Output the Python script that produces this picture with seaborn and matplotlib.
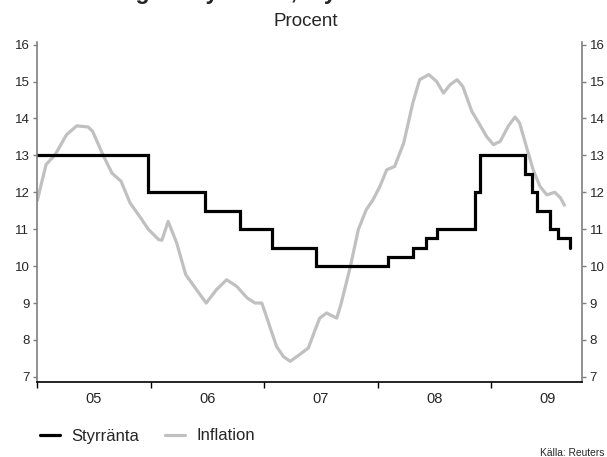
import matplotlib
matplotlib.use("Agg")
import matplotlib.pyplot as plt
from matplotlib.lines import Line2D
import pandas as pd
import seaborn as sns

# Policy rate (refinancing rate), percent: decimal year of each change and new level
rate_time = [2005.00, 2005.974, 2006.48, 2006.79, 2007.07, 2007.46, 2008.09,
             2008.31, 2008.43, 2008.52, 2008.857, 2008.90, 2009.30, 2009.357,
             2009.406, 2009.518, 2009.59, 2009.695]
rate_values = [13.0, 12.0, 11.5, 11.0, 10.5, 10.0, 10.25,
               10.5, 10.75, 11.0, 12.0, 13.0, 12.5, 12.0,
               11.5, 11.0, 10.75, 10.5]

# Consumer price inflation, percent y/y
infl_time = [2005.00, 2005.08, 2005.16, 2005.26, 2005.35, 2005.45, 2005.49, 2005.58,
             2005.66, 2005.74, 2005.82, 2005.91, 2005.98, 2006.07, 2006.10, 2006.155,
             2006.23, 2006.31, 2006.405, 2006.49, 2006.58, 2006.67, 2006.76, 2006.85,
             2006.92, 2006.98, 2007.02, 2007.11, 2007.17, 2007.23, 2007.32, 2007.39,
             2007.45, 2007.49, 2007.55, 2007.64, 2007.68, 2007.76, 2007.83, 2007.90,
             2007.96, 2008.02, 2008.08, 2008.15, 2008.23, 2008.31, 2008.37, 2008.45,
             2008.52, 2008.58, 2008.64, 2008.70, 2008.75, 2008.83, 2008.90, 2008.96,
             2009.02, 2009.08, 2009.15, 2009.21, 2009.25, 2009.31, 2009.37, 2009.43,
             2009.49, 2009.56, 2009.61, 2009.65]
infl_values = [11.75, 12.75, 13.02, 13.56, 13.80, 13.77, 13.65, 13.02,
               12.52, 12.30, 11.71, 11.32, 11.00, 10.72, 10.70, 11.21,
               10.63, 9.77, 9.36, 9.00, 9.36, 9.63, 9.45, 9.14,
               9.00, 9.00, 8.64, 7.82, 7.55, 7.42, 7.62, 7.78,
               8.28, 8.59, 8.73, 8.59, 9.00, 9.99, 10.99, 11.53,
               11.80, 12.16, 12.61, 12.70, 13.34, 14.42, 15.05, 15.19,
               15.00, 14.69, 14.92, 15.05, 14.87, 14.19, 13.83, 13.51,
               13.29, 13.38, 13.79, 14.04, 13.88, 13.24, 12.61, 12.16,
               11.93, 12.00, 11.85, 11.62]

year_starts = [2005, 2006, 2007, 2008, 2009]
year_labels = ["05", "06", "07", "08", "09"]
y_ticks = [7, 8, 9, 10, 11, 12, 13, 14, 15, 16]

series_names = ["Styrränta", "Inflation"]
colors = {"Styrränta": "#000000", "Inflation": "#c0c0c0"}

sns.set_style("white")
plt.rcParams["font.family"] = ["Liberation Sans", "DejaVu Sans"]

rate_df = pd.DataFrame({"år": rate_time, "procent": rate_values})
infl_df = pd.DataFrame({"år": infl_time, "procent": infl_values})

fig = plt.figure(figsize=(6.07, 4.57), dpi=100)
ax = fig.add_axes([37 / 607, 1 - 382 / 457, 545 / 607, (382 - 41.7) / 457])

sns.lineplot(data=infl_df, x="år", y="procent", ax=ax, color=colors["Inflation"],
             linewidth=2.3, estimator=None, solid_joinstyle="round",
             solid_capstyle="butt")
sns.lineplot(data=rate_df, x="år", y="procent", ax=ax, color=colors["Styrränta"],
             linewidth=2.3, estimator=None, drawstyle="steps-post",
             solid_joinstyle="miter")

ax.set_xlim(2005.0, 2009.80)
ax.set_ylim(6.86, 16.08)
ax.set_xlabel("")
ax.set_ylabel("")

# Year boundaries carry the tick marks, year labels sit mid-year
ax.set_xticks(year_starts)
ax.set_xticklabels([""] * len(year_starts))
ax.set_xticks([y + 0.5 for y in year_starts], minor=True)
ax.set_xticklabels(year_labels, minor=True, fontsize=10.5)
ax.tick_params(axis="x", which="major", direction="out", length=4, width=1,
               color="#000000", bottom=True)
ax.tick_params(axis="x", which="minor", length=0, pad=7)

ax.set_yticks(y_ticks)
ax.set_yticklabels([str(v) for v in y_ticks], fontsize=9.5)
ax.tick_params(axis="y", which="major", direction="out", length=3, width=1,
               color="#7f7f7f", left=True, right=True, labelleft=True,
               labelright=True, pad=2.5)

for side in ["left", "right"]:
    ax.spines[side].set_color("#7f7f7f")
    ax.spines[side].set_linewidth(1.2)
ax.spines["bottom"].set_color("#000000")
ax.spines["bottom"].set_linewidth(1.2)
ax.spines["top"].set_visible(False)
ax.grid(False)

fig.text(53 / 607, 1 + 1 / 457, "Ränteläget i Ryssland, styrränta och inflation",
         fontsize=16.5, fontweight="bold", ha="left", va="baseline")
fig.text(305.5 / 607, 1 - 26 / 457, "Procent", fontsize=13.5, ha="center",
         va="baseline")

handles = [Line2D([], [], color=colors[n], linewidth=2.3) for n in series_names]
fig.legend(handles, series_names, loc="center left",
           bbox_to_anchor=(40 / 607, 1 - 436 / 457), ncol=2, frameon=False,
           fontsize=12, handlelength=1.2, handletextpad=0.65, columnspacing=1.6,
           borderpad=0, borderaxespad=0)

fig.text(605 / 607, 1 - 456 / 457, "Källa: Reuters", fontsize=7.4, ha="right",
         va="baseline")

fig.savefig("out.png", dpi=100)
